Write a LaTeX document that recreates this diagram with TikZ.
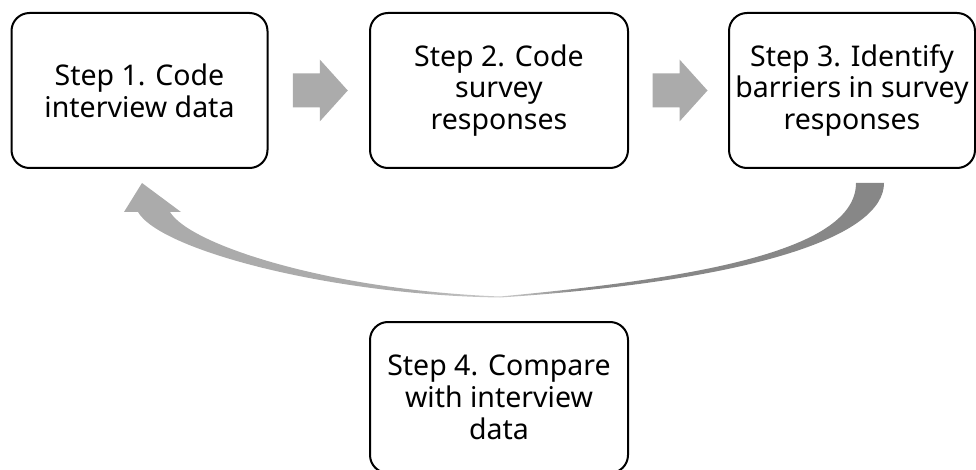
\documentclass[tikz,border=0pt]{standalone}
\usepackage{fontspec}
\setmainfont{Noto Sans}
\usetikzlibrary{calc}
\definecolor{arrowgray}{gray}{0.67}
\definecolor{loopL}{gray}{0.67}
\definecolor{loopM}{gray}{0.80}
\definecolor{loopR}{gray}{0.53}
% horizontal grey ramp for the return arrow (path spans 25bp..75bp)
\pgfdeclarehorizontalshading{loopshade}{100bp}{color(0bp)=(loopL); color(44bp)=(loopL); color(49.7bp)=(loopM); color(55bp)=(loopR); color(100bp)=(loopR)}
\begin{document}
\begin{tikzpicture}[x=1pt,y=-1pt]
\tikzset{
  stepbox/.style={draw=black, line width=2pt, rounded corners=18pt, fill=white,
    align=center, inner sep=0pt, minimum height=155pt,
    font=\fontsize{28.5}{31.7}\selectfont},
  blockarrow/.style={fill=arrowgray, draw=none}
}
\useasboundingbox (0,0) rectangle (976,470);

% the four steps
\node[stepbox, minimum width=256pt] (s1) at (139.5,90.5) {Step 1. Code\\interview data};
\node[stepbox, minimum width=258pt] (s2) at (499,90.5) {Step 2. Code\\survey\\responses};
\node[stepbox, minimum width=246pt] (s3) at (852,90.5) {Step 3. Identify\\barriers in survey\\responses};
\node[stepbox, minimum width=258pt, minimum height=151pt] (s4) at (499,397.5) {Step 4. Compare\\with interview\\data};

% block arrows between the top steps
\foreach \a/\b in {s1/s2, s2/s3}{
  \begin{scope}[shift={($(\a.east)!0.5!(\b.west)$)}]
    \fill[blockarrow] (-26,-17) -- (1,-17) -- (1,-31) -- (29,0) -- (1,31)
      -- (1,17) -- (-26,17) -- cycle;
  \end{scope}
}

% curved return arrow from step 3 back to step 1, tapering to a hairline
\coordinate (tailO) at (884,183);
\coordinate (tailI) at (856,183);
\coordinate (tip) at (142,183);
\shade[shading=loopshade]
  (tailO) .. controls (884,235) and (760,280) .. (500,297.5)
  .. controls (330,295) and (160,250) .. (138,212)
  -- (124,212) -- (tip) -- (181,212) -- (170,212)
  .. controls (190,245) and (330,290) .. (500,296.5)
  .. controls (700,278) and (856,250) .. (tailI) -- cycle;
\end{tikzpicture}
\end{document}
